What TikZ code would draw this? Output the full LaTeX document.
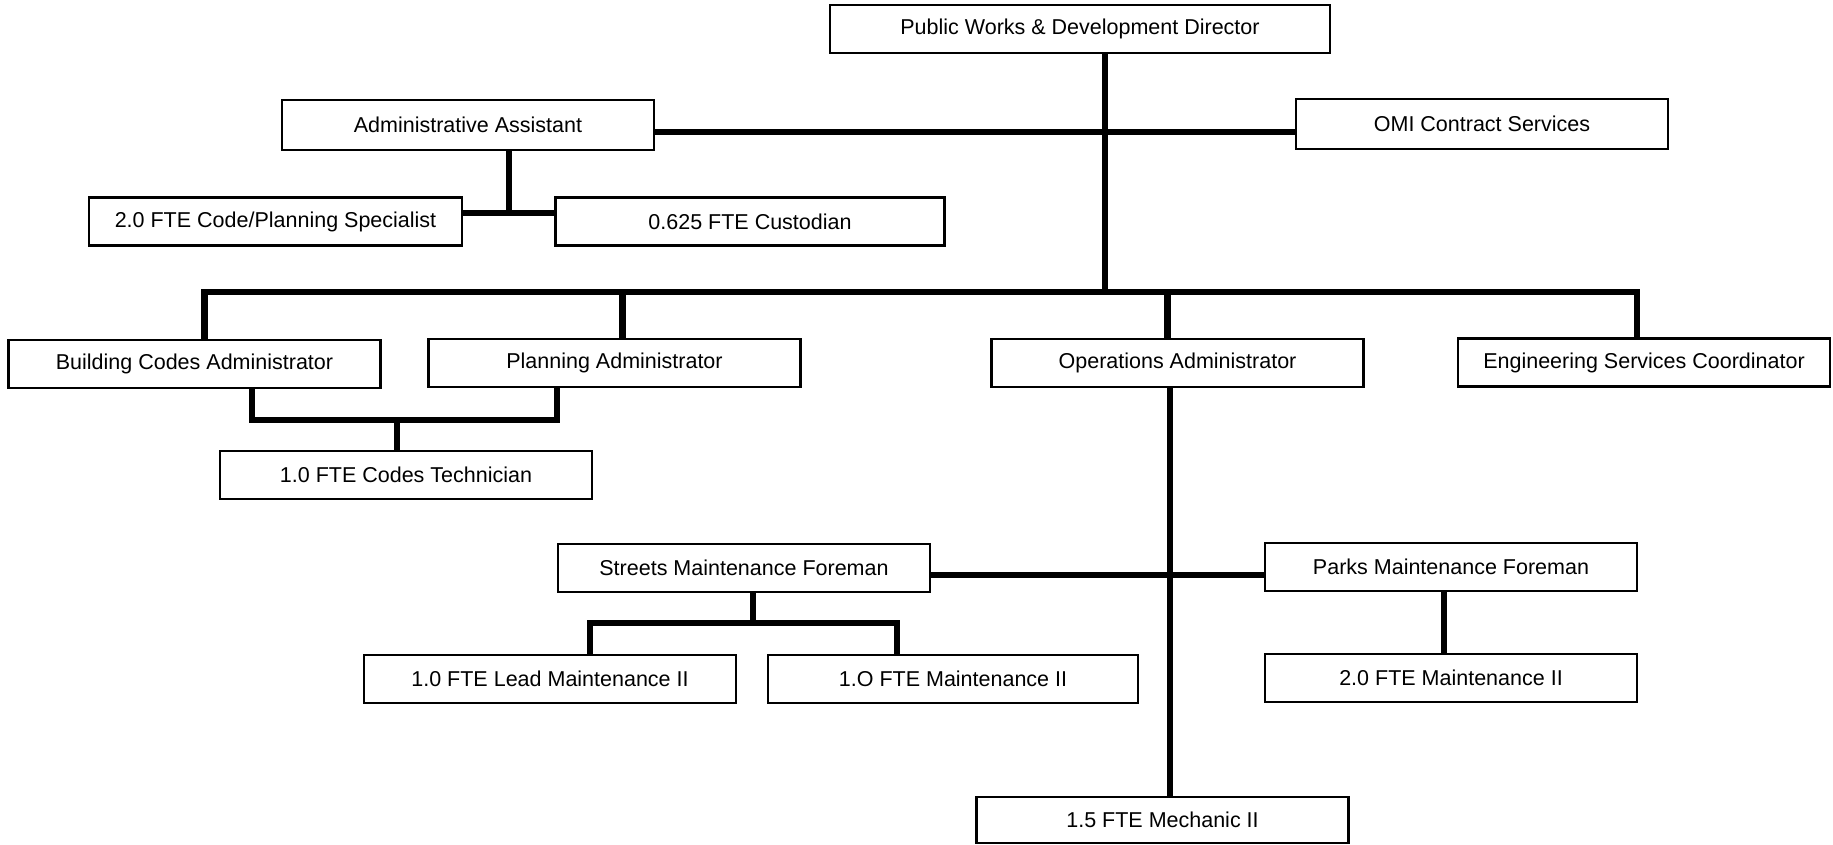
\documentclass[tikz,border=0pt]{standalone}
\usepackage{fontspec}
\setmainfont{Liberation Sans}

\begin{document}
\begin{tikzpicture}[x=1pt,y=1pt,
  box/.style={draw, line width=2.5pt, fill=white, minimum width=372pt, minimum height=48pt, inner sep=0pt, font=\fontsize{21.5}{24}\selectfont},
  link/.style={line width=6.5pt}]

  \useasboundingbox (0,0) rectangle (1833,-844);

% Boxes
  \node[box, minimum width=500pt] (dir) at (1080,-29) {Public Works \& Development Director};
  \node[box, minimum height=50pt] (assist) at (468,-125) {Administrative Assistant};
  \node[box, minimum height=50pt] (omi) at (1482,-124) {OMI Contract Services};
  \node[box, minimum width=373pt] (spec) at (275.5,-221.5) {2.0 FTE Code/Planning Specialist};
  \node[box, minimum width=389pt] (cust) at (750,-221.5) {0.625 FTE Custodian};

  \node[box] (bldg) at (194.5,-364) {Building Codes Administrator};
  \node[box] (plan) at (614.5,-363) {Planning Administrator};
  \node[box] (ops) at (1177.5,-363) {Operations Administrator};
  \node[box] (eng) at (1644,-362.5) {Engineering Services Coordinator};
  \node[box] (tech) at (406,-475) {1.0 FTE Codes Technician};

  \node[box] (streets) at (744,-568) {Streets Maintenance Foreman};
  \node[box] (parks) at (1451,-567) {Parks Maintenance Foreman};
  \node[box] (lead) at (550,-679) {1.0 FTE Lead Maintenance II};
  \node[box, minimum width=370pt] (maint) at (953,-679) {1.O FTE Maintenance II};
  \node[box] (pmaint) at (1451,-678) {2.0 FTE Maintenance II};
  \node[box, minimum height=46pt] (mech) at (1162.5,-820) {1.5 FTE Mechanic II};

% Junctions
  \coordinate (bus) at (1105,-292);
  \coordinate (aj) at (509,-213);
  \coordinate (cj) at (397,-420);
  \coordinate (sj) at (753,-623);

% Lines
  \draw[link] ([xshift=25]dir.south) -- (bus);
  \draw[link] ([yshift=-7]assist.east) -- ([yshift=-7]assist.east -| omi.west);
  \draw[link] (assist.south -| aj) -- (aj);
  \draw[link] (spec.east |- aj) -- (cust.west |- aj);

  \draw[link] ([xshift=10]bldg.north) -- ([xshift=10]bldg.north |- bus) -- ([xshift=-7]eng.north |- bus) -- ([xshift=-7]eng.north);
  \draw[link] ([xshift=8]plan.north) -- ([xshift=8]plan.north |- bus);
  \draw[link] ([xshift=-10]ops.north) -- ([xshift=-10]ops.north |- bus);

  \draw[link] ([xshift=57.5]bldg.south) -- ([xshift=57.5]bldg.south |- cj) -- ([xshift=-57.5]plan.south |- cj) -- ([xshift=-57.5]plan.south);
  \draw[link] (cj) -- (cj |- tech.north);

  \draw[link] ([xshift=-7.5]ops.south) -- ([xshift=7.5]mech.north);
  \draw[link] ([yshift=-7]streets.east) -- ([yshift=-7]streets.east -| parks.west);
  \draw[link] (streets.south -| sj) -- (sj);
  \draw[link] ([xshift=40]lead.north) -- ([xshift=40]lead.north |- sj) -- ([xshift=-56]maint.north |- sj) -- ([xshift=-56]maint.north);
  \draw[link] ([xshift=-7]parks.south) -- ([xshift=-7]pmaint.north);

\end{tikzpicture}
\end{document}
